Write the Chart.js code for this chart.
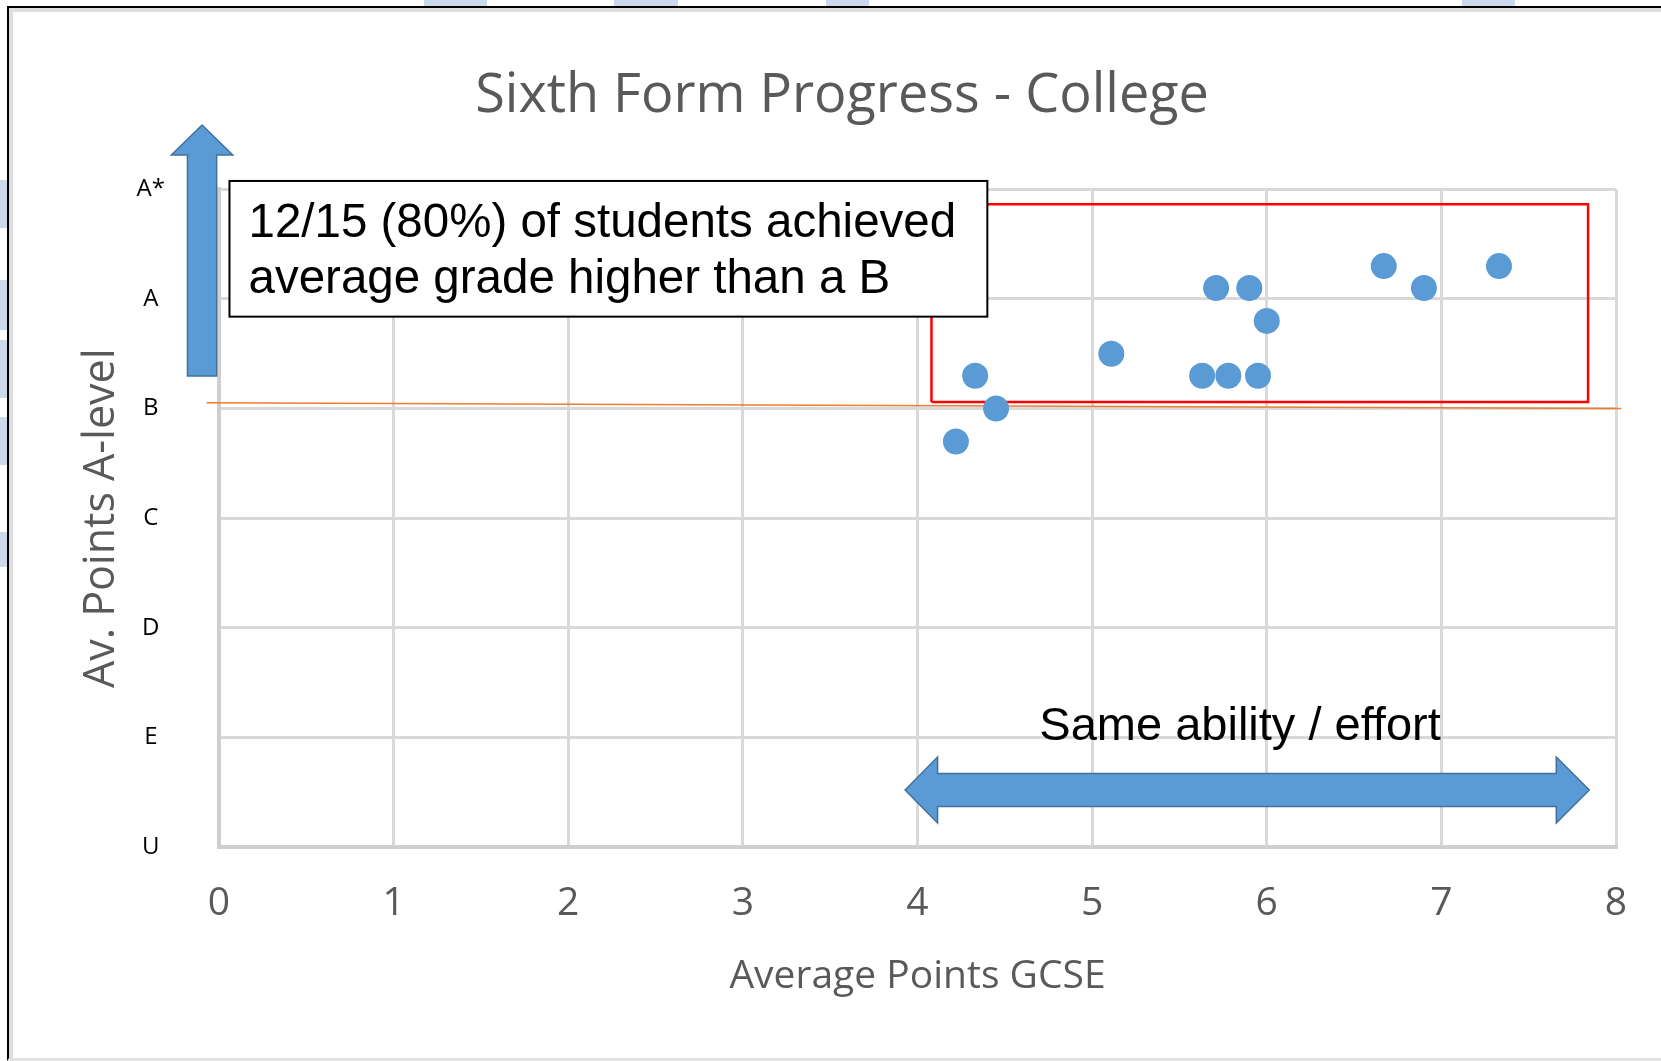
<!DOCTYPE html>
<html>
<head>
<meta charset="utf-8">
<title>Sixth Form Progress - College</title>
<script src="https://cdn.jsdelivr.net/npm/chart.js@4.4.1/dist/chart.umd.min.js"></script>
<style>
  html, body { margin: 0; padding: 0; background: #fff; }
  .slide { position: relative; width: 1661px; height: 1061px; overflow: hidden; background: #fff; }
  .frame {
    position: absolute; left: 7px; top: 6px; right: 0; bottom: 0;
    border-left: 2px solid #000; border-top: 2px solid #000; border-bottom: 3px solid #e3e3e3;
    box-shadow: inset 4px 4px 0 #dedede;
  }
  .blob { position: absolute; background: #cbd9eb; }
  #chart { position: absolute; left: 0; top: 0; }
</style>
</head>
<body>
<div class="slide">
  <div class="blob" style="left:424px;top:0;width:63px;height:6px"></div>
  <div class="blob" style="left:614px;top:0;width:64px;height:6px"></div>
  <div class="blob" style="left:826px;top:0;width:43px;height:6px"></div>
  <div class="blob" style="left:1462px;top:0;width:53px;height:6px"></div>
  <div class="blob" style="left:0;top:180px;width:7px;height:48px"></div>
  <div class="blob" style="left:0;top:280px;width:7px;height:50px"></div>
  <div class="blob" style="left:0;top:340px;width:7px;height:58px"></div>
  <div class="blob" style="left:0;top:417px;width:7px;height:48px"></div>
  <div class="blob" style="left:0;top:532px;width:7px;height:35px"></div>
  <div class="frame"></div>
  <canvas id="chart" width="1661" height="1061"></canvas>
</div>
<script>
(function () {
  "use strict";

  // GCSE average points (x) and A-level average points (y) per student
  var gcse = [4.33, 4.45, 4.22, 5.11, 5.71, 5.9, 6.0, 5.63, 5.78, 5.95, 6.67, 6.9, 7.33];
  var alevel = [43, 40, 37, 45, 51, 51, 48, 43, 43, 43, 53, 51, 53];

  // y axis: points value -> grade letter
  var gradeValues = [0, 10, 20, 30, 40, 50, 60];
  var gradeLabels = ["U", "E", "D", "C", "B", "A", "A*"];

  // hand-drawn B threshold line and "above B" box, in axis units
  var thresholdX = [-0.07, 8.03];
  var thresholdY = [40.53, 40.0];
  var boxX = [4.08, 7.84];
  var boxY = [40.6, 58.64];

  var noteLines = ["12/15 (80%) of students achieved", "average grade higher than a B"];
  var spanLabel = "Same ability / effort";

  var blue = "#5b9bd5";
  var blueEdge = "#41719c";
  var grey = "#595959";
  var gridGrey = "#d9d9d9";
  var sans = "'Open Sans', 'Noto Sans', sans-serif";
  var arial = "'Liberation Sans', Arial, sans-serif";

  var points = gcse.map(function (x, i) { return { x: x, y: alevel[i] }; });
  var threshold = thresholdX.map(function (x, i) { return { x: x, y: thresholdY[i] }; });
  var box = [
    { x: boxX[0], y: boxY[0] },
    { x: boxX[0], y: boxY[1] },
    { x: boxX[1], y: boxY[1] },
    { x: boxX[1], y: boxY[0] },
    { x: boxX[0], y: boxY[0] }
  ];

  // callout shapes, anchored in axis units
  var note = { x: [0.06, 4.4], y: [60.77, 48.39], padX: 19, first: 56, lineGap: 56 };
  var upArrow = { x: -0.097, tip: 65.88, headBase: 63.14, bottom: 42.97, head: 30.7, shaft: 14.6 };
  var spanArrow = { tips: [3.929, 7.847], bases: [4.115, 7.658], y: 5.2, head: 33, shaft: 16.5 };
  var spanText = { x: 5.847, y: 9.76 };

  function poly(ctx, pts) {
    ctx.beginPath();
    pts.forEach(function (p, i) {
      if (i === 0) ctx.moveTo(p[0], p[1]);
      else ctx.lineTo(p[0], p[1]);
    });
    ctx.closePath();
    ctx.fillStyle = blue;
    ctx.fill();
    ctx.strokeStyle = blueEdge;
    ctx.lineWidth = 1.5;
    ctx.stroke();
  }

  var callouts = {
    id: "callouts",
    afterDatasetsDraw: function (chart) {
      var ctx = chart.ctx;
      var sx = chart.scales.x;
      var sy = chart.scales.y;
      ctx.save();

      // text box
      var l = sx.getPixelForValue(note.x[0]);
      var r = sx.getPixelForValue(note.x[1]);
      var t = sy.getPixelForValue(note.y[0]);
      var b = sy.getPixelForValue(note.y[1]);
      ctx.fillStyle = "#fff";
      ctx.fillRect(l, t, r - l, b - t);
      ctx.strokeStyle = "#000";
      ctx.lineWidth = 2;
      ctx.strokeRect(l, t, r - l, b - t);
      ctx.fillStyle = "#000";
      ctx.font = "47.5px " + arial;
      ctx.textAlign = "left";
      ctx.textBaseline = "alphabetic";
      noteLines.forEach(function (line, i) {
        ctx.fillText(line, l + note.padX, t + note.first + i * note.lineGap);
      });

      // upward arrow next to the grade axis
      var cx = sx.getPixelForValue(upArrow.x);
      var tip = sy.getPixelForValue(upArrow.tip);
      var hb = sy.getPixelForValue(upArrow.headBase);
      var bot = sy.getPixelForValue(upArrow.bottom);
      poly(ctx, [
        [cx, tip], [cx + upArrow.head, hb], [cx + upArrow.shaft, hb], [cx + upArrow.shaft, bot],
        [cx - upArrow.shaft, bot], [cx - upArrow.shaft, hb], [cx - upArrow.head, hb]
      ]);

      // double-headed arrow
      var lt = sx.getPixelForValue(spanArrow.tips[0]);
      var rt = sx.getPixelForValue(spanArrow.tips[1]);
      var lb = sx.getPixelForValue(spanArrow.bases[0]);
      var rb = sx.getPixelForValue(spanArrow.bases[1]);
      var cy = sy.getPixelForValue(spanArrow.y);
      var h = spanArrow.head;
      var s = spanArrow.shaft;
      poly(ctx, [
        [lt, cy], [lb, cy - h], [lb, cy - s], [rb, cy - s], [rb, cy - h],
        [rt, cy], [rb, cy + h], [rb, cy + s], [lb, cy + s], [lb, cy + h]
      ]);

      ctx.fillStyle = "#000";
      ctx.font = "47px " + arial;
      ctx.textAlign = "center";
      ctx.fillText(spanLabel, sx.getPixelForValue(spanText.x), sy.getPixelForValue(spanText.y));
      ctx.restore();
    }
  };

  new Chart(document.getElementById("chart"), {
    type: "scatter",
    data: {
      datasets: [
        {
          label: "Students",
          data: points,
          backgroundColor: blue,
          borderWidth: 0,
          pointRadius: 13,
          pointHoverRadius: 13
        },
        {
          label: "B grade",
          data: threshold,
          showLine: true,
          borderColor: "#ed7d31",
          borderWidth: 1.5,
          pointRadius: 0,
          pointHitRadius: 0,
          clip: false
        },
        {
          label: "Above B",
          data: box,
          showLine: true,
          borderColor: "#ff0000",
          borderWidth: 2.5,
          pointRadius: 0,
          pointHitRadius: 0,
          clip: false
        }
      ]
    },
    options: {
      responsive: false,
      animation: false,
      events: [],
      layout: { padding: { left: 68, right: 45, top: 0, bottom: 0 } },
      plugins: {
        legend: { display: false },
        tooltip: { enabled: false },
        title: {
          display: true,
          text: "Sixth Form Progress - College",
          color: grey,
          font: { family: sans, size: 54, weight: "normal" },
          padding: { top: 64, bottom: 60.6 }
        }
      },
      scales: {
        x: {
          type: "linear",
          min: 0,
          max: 8,
          ticks: { stepSize: 1, color: grey, font: { family: sans, size: 39 }, padding: 33 },
          grid: { color: gridGrey, lineWidth: 3, drawTicks: false },
          border: { color: "#cfcfcf", width: 4 },
          title: {
            display: true,
            text: "Average Points GCSE",
            color: grey,
            font: { family: sans, size: 39 },
            padding: { top: 0, bottom: 61 }
          },
          afterFit: function (scale) { scale.height = 214; }
        },
        y: {
          type: "linear",
          min: 0,
          max: 60,
          ticks: {
            stepSize: 10,
            color: "#000",
            font: { family: sans, size: 24 },
            crossAlign: "center",
            padding: 54,
            callback: function (v) {
              var i = gradeValues.indexOf(v);
              return i < 0 ? "" : gradeLabels[i];
            }
          },
          grid: { color: gridGrey, lineWidth: 3, drawTicks: false },
          border: { color: "#cfcfcf", width: 4 },
          title: {
            display: true,
            text: "Av. Points A-level",
            color: grey,
            font: { family: sans, size: 43 },
            padding: { top: 8, bottom: 0 }
          },
          afterFit: function (scale) { scale.width = 151; }
        }
      }
    },
    plugins: [callouts]
  });
})();
</script>
</body>
</html>
